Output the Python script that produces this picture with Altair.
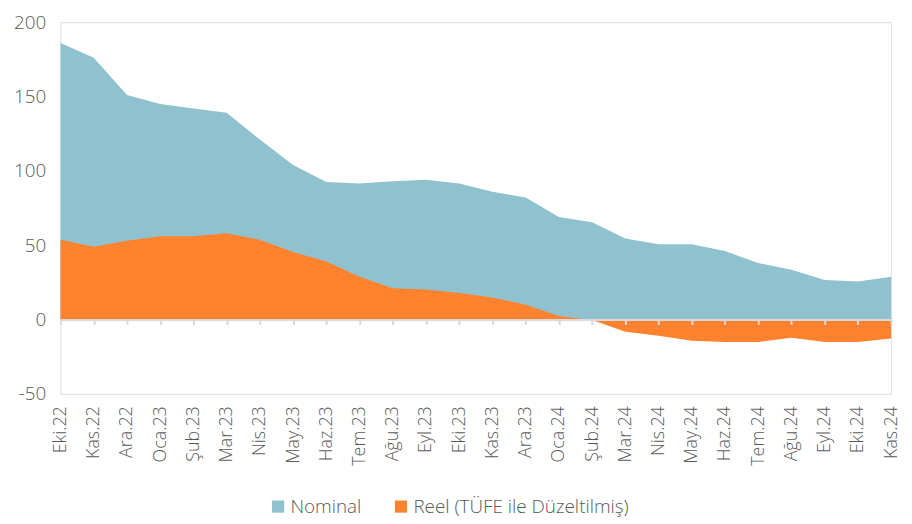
import altair as alt
import pandas as pd

months = ["Eki.22", "Kas.22", "Ara.22", "Oca.23", "Şub.23", "Mar.23", "Nis.23", "May.23",
          "Haz.23", "Tem.23", "Ağu.23", "Eyl.23", "Eki.23", "Kas.23", "Ara.23", "Oca.24",
          "Şub.24", "Mar.24", "Nis.24", "May.24", "Haz.24", "Tem.24", "Ağu.24", "Eyl.24",
          "Eki.24", "Kas.24"]
nominal = [186, 176, 151, 145, 142, 139, 121, 104, 92.5, 91.5, 93, 94, 91.5, 86, 82, 69,
           65.5, 54.5, 50.6, 50.6, 46, 38, 33.5, 26.5, 25.6, 28.7]
reel = [53.6, 49, 53, 56, 56, 58, 53.6, 45.4, 39, 28.7, 21, 20.2, 17.8, 14.8, 10, 2.4,
        -0.3, -8.2, -11, -14.3, -15.2, -15.2, -12.2, -15.2, -15.2, -12.8]
series = ["Nominal", "Reel (TÜFE ile Düzeltilmiş)"]
colors = ["#8FC1CE", "#FF832E"]

df = pd.DataFrame({
    "month": months * 2,
    "value": nominal + reel,
    "series": [series[0]] * len(months) + [series[1]] * len(months),
})

FONT = "Open Sans"
GRAY = "#595959"

x = alt.X("month:N", sort=months, scale=alt.Scale(type="point", padding=0),
          axis=alt.Axis(title=None, labelAngle=-90, labelAlign="right", labelBaseline="middle",
                        labelFontSize=18, labelColor=GRAY, labelFont=FONT, labelFontWeight=300,
                        offset=-75, domainColor="#D9D9D9", domainWidth=2, tickColor="#D9D9D9",
                        tickWidth=2, tickSize=5, labelPadding=82, zindex=1))
y = alt.Y("value:Q", scale=alt.Scale(domain=[-50, 200], nice=False),
          axis=alt.Axis(title=None, values=[-50, 0, 50, 100, 150, 200], grid=False, domain=False,
                        ticks=False, labelFontSize=19, labelColor=GRAY, labelFont=FONT,
                        labelFontWeight=300, labelPadding=15,
                        labelExpr="replace(datum.label, '\u2212', '-')"))
color = alt.Color("series:N", scale=alt.Scale(domain=series, range=colors),
                  legend=alt.Legend(title=None, orient="none", legendX=210, legendY=479,
                                    direction="horizontal", symbolType="square", symbolSize=150,
                                    symbolStrokeWidth=0, labelFontSize=19, labelColor=GRAY,
                                    labelFont=FONT, labelFontWeight=300, columnPadding=30,
                                    labelOffset=3, padding=0, labelLimit=0))

base = alt.Chart(df)
nom = base.transform_filter(alt.datum.series == series[0]).mark_area(opacity=1).encode(
    x=x, y=y, color=color)
rl = base.transform_filter(alt.datum.series == series[1]).mark_area(opacity=1).encode(
    x=x, y=y, color=color)

chart = alt.layer(nom, rl).properties(
    width=838, height=375,
    autosize=alt.AutoSizeParams(type="none"),
    padding={"left": 53, "top": 12, "right": 13, "bottom": 126},
).configure_view(strokeWidth=0).configure(font=FONT)

chart.save("out.html", embed_options={"renderer": "svg", "actions": False})
